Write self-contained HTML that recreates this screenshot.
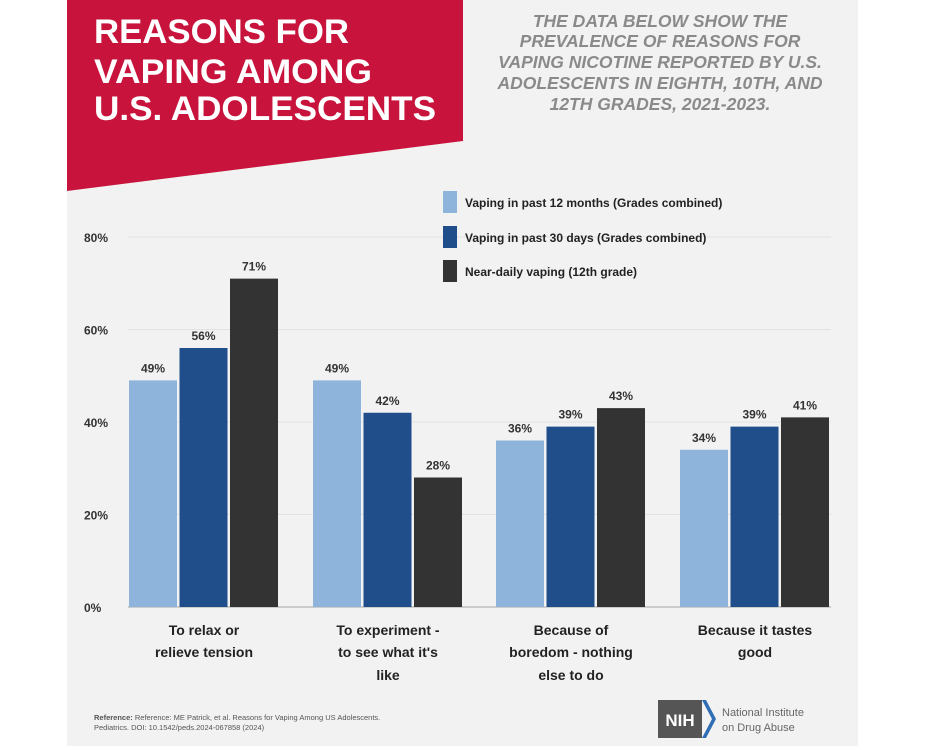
<!DOCTYPE html>
<html><head><meta charset="utf-8"><style>
body{margin:0;width:926px;height:750px;background:#fff;overflow:hidden;font-family:"Liberation Sans",sans-serif;}
#panel{position:absolute;left:67px;top:0;width:791px;height:746px;background:#f2f2f2;}
</style></head><body>
<div id="panel"></div>
<svg width="926" height="750" style="position:absolute;left:0;top:0">
<polygon points="67,0 463,0 463,141 67,191" fill="#c8143c"/>
<g font-weight="bold" fill="#fff" font-size="34">
<text x="94" y="43" textLength="255" lengthAdjust="spacingAndGlyphs">REASONS FOR</text>
<text x="94" y="83" textLength="278" lengthAdjust="spacingAndGlyphs">VAPING AMONG</text>
<text x="94" y="120" textLength="342" lengthAdjust="spacingAndGlyphs">U.S. ADOLESCENTS</text>
</g>
<g font-style="italic" fill="#8a8a8a" font-size="17.5" font-weight="bold" text-anchor="middle">
<text x="660" y="27">THE DATA BELOW SHOW THE</text>
<text x="660" y="47">PREVALENCE OF REASONS FOR</text>
<text x="660" y="68">VAPING NICOTINE REPORTED BY U.S.</text>
<text x="660" y="89">ADOLESCENTS IN EIGHTH, 10TH, AND</text>
<text x="660" y="110">12TH GRADES, 2021-2023.</text>
</g>
<g id="grid"></g><g id="bars"></g>
<g font-size="12" font-weight="bold" fill="#222">
<rect x="443" y="191" width="14" height="22" fill="#8fb4dc"/><text x="465" y="207">Vaping in past 12 months (Grades combined)</text>
<rect x="443" y="226" width="14" height="22" fill="#1f4e8a"/><text x="465" y="242">Vaping in past 30 days (Grades combined)</text>
<rect x="443" y="260" width="14" height="22" fill="#333"/><text x="465" y="276">Near-daily vaping (12th grade)</text>
</g>
<g font-size="14" font-weight="bold" fill="#222" text-anchor="middle">
<text x="204" y="635">To relax or</text><text x="204" y="657">relieve tension</text>
<text x="388" y="635">To experiment -</text><text x="388" y="657">to see what it's</text><text x="388" y="680">like</text>
<text x="571" y="635">Because of</text><text x="571" y="657">boredom - nothing</text><text x="571" y="680">else to do</text>
<text x="755" y="635">Because it tastes</text><text x="755" y="657">good</text>
</g>
<g>
<text x="94" y="720" font-size="7.5" fill="#555"><tspan font-weight="bold">Reference:</tspan> Reference: ME Patrick, et al. Reasons for Vaping Among US Adolescents.</text>
<text x="94" y="730" font-size="7.5" fill="#555">Pediatrics. DOI: 10.1542/peds.2024-067858 (2024)</text>
<rect x="658" y="700" width="44" height="38" fill="#555"/>
<polygon points="702,700 712,719 702,738 706,738 716,719 706,700" fill="#2f6db5"/>
<text x="680" y="726" font-size="17" fill="#fff" text-anchor="middle" font-weight="bold">NIH</text>
<text x="722" y="716" font-size="11" fill="#666">National Institute</text>
<text x="722" y="731" font-size="11" fill="#666">on Drug Abuse</text>
</g>
</svg>
<script>
const categories=["To relax or relieve tension","To experiment","Because of boredom","Because it tastes good"];
const past12=[49,49,36,34];
const past30=[56,42,39,39];
const nearDaily=[71,28,43,41];
const ticks=[0,20,40,60,80];
const NS='http://www.w3.org/2000/svg';
const y0=607,yTop=237,yMax=80;
function y(v){return y0-(v/yMax)*(y0-yTop);}
const groupX=[129,313,496,680],barW=48,step=50.5;
const grid=document.getElementById('grid'),bars=document.getElementById('bars');
ticks.forEach(t=>{
 const l=document.createElementNS(NS,'line');
 l.setAttribute('x1',128);l.setAttribute('x2',831);l.setAttribute('y1',y(t));l.setAttribute('y2',y(t));
 l.setAttribute('stroke',t===0?'#ccc':'#e2e2e2');l.setAttribute('stroke-width',t===0?2:1);
 
 
 grid.appendChild(l);
 const tx=document.createElementNS(NS,'text');
 tx.setAttribute('x',84);tx.setAttribute('y',y(t)+5);tx.setAttribute('font-size','12');tx.setAttribute('font-weight','bold');tx.setAttribute('fill','#333');
 tx.textContent=t+'%';
 
 
 grid.appendChild(tx);
});
const series=[past12,past30,nearDaily],colors=['#8fb4dc','#1f4e8a','#333333'];
categories.forEach((c,i)=>{
 series.forEach((s,j)=>{
  const x=groupX[i]+j*step;
  const r=document.createElementNS(NS,'rect');
  r.setAttribute('x',x);r.setAttribute('y',y(s[i]));r.setAttribute('width',barW);r.setAttribute('height',y0-y(s[i]));r.setAttribute('fill',colors[j]);
  
  
  bars.appendChild(r);
  const t=document.createElementNS(NS,'text');
  t.setAttribute('x',x+barW/2);t.setAttribute('y',y(s[i])-8);t.setAttribute('text-anchor','middle');t.setAttribute('font-size','12');t.setAttribute('font-weight','bold');t.setAttribute('fill','#333');
  t.textContent=s[i]+'%';
  
  
  bars.appendChild(t);
 });
});
</script>
</body></html>
